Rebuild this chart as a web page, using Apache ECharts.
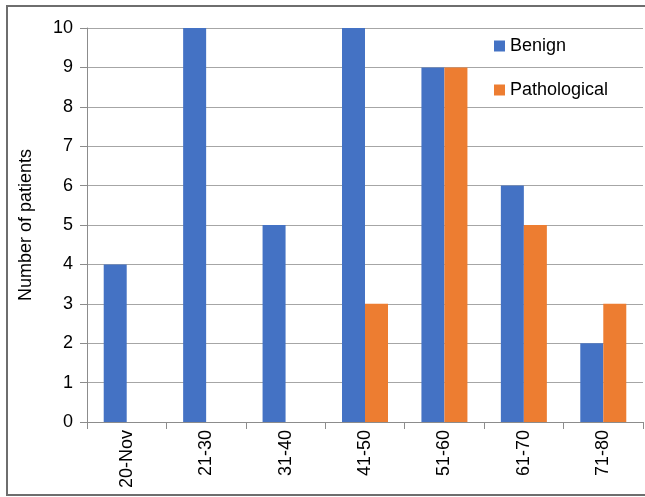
<!DOCTYPE html>
<html>
<head>
<meta charset="utf-8">
<script src="https://cdn.jsdelivr.net/npm/echarts@6/dist/echarts.min.js"></script>
<style>
  body { margin: 0; background: #fff; }
  #main { width: 645px; height: 497px; }
</style>
</head>
<body>
<div id="main"></div>
<script>
const ageGroups = ["20-Nov", "21-30", "31-40", "41-50", "51-60", "61-70", "71-80"];
const benign = [4, 10, 5, 10, 9, 6, 2];
const pathological = [0, 0, 0, 3, 9, 5, 3];

const font = "Liberation Sans, Arial, sans-serif";
const chart = echarts.init(document.getElementById("main"));

chart.setOption({
  animation: false,
  textStyle: { fontFamily: font },
  // outer frame, open on the right like the source image
  graphic: [
    {
      type: "polyline",
      silent: true,
      shape: { points: [[660, 6], [7, 6], [7, 495], [660, 495]] },
      style: { stroke: "#6e6e6e", lineWidth: 2, fill: null },
    },
  ],
  grid: { left: 87, right: 2, top: 28, bottom: 75 },
  legend: {
    orient: "vertical",
    left: 489,
    top: 32,
    itemWidth: 11,
    itemHeight: 11,
    itemGap: 26,
    icon: "rect",
    textStyle: { fontSize: 18, color: "#000", fontFamily: font },
    data: ["Benign", "Pathological"],
  },
  xAxis: {
    type: "category",
    data: ageGroups,
    axisLine: { lineStyle: { color: "#8c8c8c", width: 1 } },
    axisTick: { show: true, length: 7, lineStyle: { color: "#8c8c8c" } },
    axisLabel: {
      rotate: 90,
      fontSize: 18,
      color: "#000",
      margin: 8,
      fontFamily: font,
    },
  },
  yAxis: {
    type: "value",
    min: 0,
    max: 10,
    interval: 1,
    name: "Number of patients",
    nameLocation: "middle",
    nameGap: 52,
    nameTextStyle: { fontSize: 18, color: "#000", fontFamily: font },
    axisLine: { show: true, lineStyle: { color: "#8c8c8c", width: 1 } },
    axisTick: { show: true, length: 7, lineStyle: { color: "#8c8c8c" } },
    axisLabel: { fontSize: 18, color: "#000", margin: 14, fontFamily: font },
    splitLine: { lineStyle: { color: "#a6a6a6", width: 1 } },
  },
  series: [
    {
      name: "Benign",
      type: "bar",
      data: benign,
      barWidth: 23,
      barGap: "0%",
      itemStyle: { color: "#4472C4" },
    },
    {
      name: "Pathological",
      type: "bar",
      data: pathological,
      barWidth: 23,
      itemStyle: { color: "#ED7D31" },
    },
  ],
});
</script>
</body>
</html>
